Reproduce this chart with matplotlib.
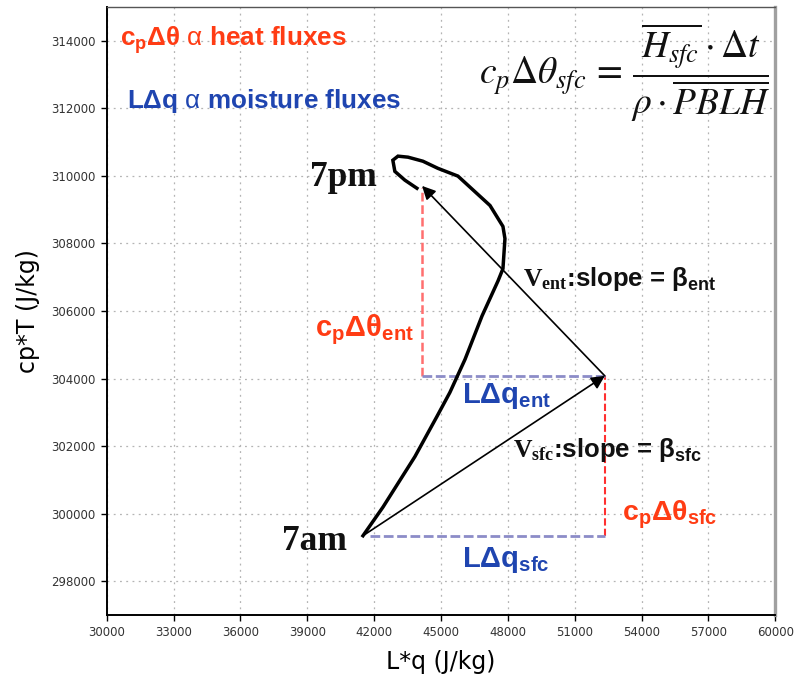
import matplotlib
matplotlib.use("Agg")
import matplotlib.pyplot as plt

# Daily mixing-diagram trajectory (7am -> 7pm), hourly-ish samples
lq_path = [41500, 42400, 43830, 44820, 45400, 46080, 46840, 47560, 47780,
           47870, 47780, 47200, 45760, 44860, 44190, 43520, 43070, 42840,
           42930, 43380, 43920]
cpt_path = [299350, 300200, 301690, 302880, 303590, 304570, 305850, 306890,
            307250, 308140, 308500, 309120, 309990, 310220, 310430, 310550,
            310580, 310460, 310130, 309870, 309630]

# Flux vectors: surface vector from 7am, entrainment vector back to 7pm state
sfc_start = (41500, 299350)
sfc_end = (52350, 304080)
ent_end = (44150, 309700)

x_ticks = list(range(30000, 60001, 3000))
y_ticks = list(range(298000, 314001, 2000))

RED = "#ff3c14"
BLUE = "#1f45b0"

plt.rcParams["mathtext.fontset"] = "custom"
plt.rcParams["mathtext.rm"] = "Liberation Sans"
plt.rcParams["mathtext.it"] = "Liberation Sans:italic"
plt.rcParams["mathtext.bf"] = "Liberation Sans:bold"
plt.rcParams["mathtext.sf"] = "Liberation Serif:bold"

fig = plt.figure(figsize=(7.96, 6.76), dpi=100)
ax = fig.add_axes([0.134, 0.090, 0.840, 0.900])

ax.set_xlim(30000, 60000)
ax.set_ylim(297000, 315000)
ax.set_xticks(x_ticks)
ax.set_yticks(y_ticks)
ax.set_xticklabels([str(v) for v in x_ticks])
ax.set_yticklabels([str(v) for v in y_ticks])
ax.tick_params(direction="out", length=4, width=1, color="black",
               labelsize=8.5, labelcolor="#333333", pad=4)
for lab in ax.get_xticklabels() + ax.get_yticklabels():
    lab.set_fontfamily(["Liberation Sans Narrow", "DejaVu Sans"])

ax.grid(True, color="#b4b4b4", linestyle=(0, (1.5, 3.5)), linewidth=0.9)
ax.set_axisbelow(True)

ax.spines["left"].set_linewidth(1.4)
ax.spines["bottom"].set_linewidth(1.4)
ax.spines["top"].set_color("#555555")
ax.spines["top"].set_linewidth(1.0)
ax.spines["right"].set_color("#a0a0a0")
ax.spines["right"].set_linewidth(2.4)

ax.set_xlabel("L*q (J/kg)", fontsize=17, labelpad=8)
ax.set_ylabel("cp*T (J/kg)", fontsize=17, labelpad=8)

# dashed component lines
ax.plot([ent_end[0], ent_end[0]], [sfc_end[1], ent_end[1] - 60],
        color="#ff6f6f", lw=1.8, linestyle=(0, (3.5, 1.5)), zorder=2)
ax.plot([sfc_end[0], sfc_end[0]], [sfc_start[1], sfc_end[1]],
        color="#ff3030", lw=1.5, linestyle=(0, (3.5, 1.5)), zorder=2)
ax.plot([ent_end[0], sfc_end[0]], [sfc_end[1], sfc_end[1]],
        color="#8c8cc8", lw=2.0, linestyle=(0, (3.5, 1.3)), zorder=2)
ax.plot([sfc_start[0] + 300, sfc_end[0]], [sfc_start[1], sfc_start[1]],
        color="#8c8cc8", lw=2.0, linestyle=(0, (3.5, 1.3)), zorder=2)

# trajectory
ax.plot(lq_path, cpt_path, color="black", lw=2.5, solid_joinstyle="miter",
        zorder=4)

# flux vectors
arrow_kw = dict(arrowstyle="-|>", color="black", lw=1.2, mutation_scale=20,
                shrinkA=0, shrinkB=0)
ax.annotate("", xy=sfc_end, xytext=sfc_start, arrowprops=arrow_kw, zorder=5)
ax.annotate("", xy=ent_end, xytext=sfc_end, arrowprops=arrow_kw, zorder=5)

# annotations
ax.text(30580, 314000, r"$\mathbf{c_p\Delta\theta}$ $\mathrm{\alpha}$ heat fluxes",
        color=RED, fontsize=18.8, fontweight="bold", family="Liberation Sans",
        ha="left", va="center")
ax.text(30900, 312200, r"$\mathbf{L\Delta q}$ $\mathrm{\alpha}$ moisture fluxes",
        color=BLUE, fontsize=18.8, fontweight="bold", family="Liberation Sans",
        ha="left", va="center")
ax.text(59780, 313050,
        r"$c_p\Delta\theta_{sfc}\,=\,\dfrac{\overline{H_{sfc}}\cdot\Delta t}"
        r"{\rho\cdot\overline{PBLH}}$",
        math_fontfamily="stix", fontsize=27, color="#111111",
        ha="right", va="center")

ax.text(42120, 309950, "7pm", family="Liberation Serif", fontweight="bold",
        fontsize=25.5, color="#111111", ha="right", va="center")
ax.text(40780, 299180, "7am", family="Liberation Serif", fontweight="bold",
        fontsize=25.5, color="#111111", ha="right", va="center")

ax.text(48680, 306950, r"$\mathsf{V_{ent}}$:slope = $\mathbf{\beta_{ent}}$",
        fontsize=18.5, fontweight="bold", family="Liberation Sans",
        color="#111111", ha="left", va="center")
ax.text(48230, 301900, r"$\mathsf{V_{sfc}}$:slope = $\mathbf{\beta_{sfc}}$",
        fontsize=18.5, fontweight="bold", family="Liberation Sans",
        color="#111111", ha="left", va="center")

ax.text(39340, 305460, r"$\mathbf{c_p\Delta\theta_{ent}}$", fontsize=21,
        color=RED, ha="left", va="center")
ax.text(53130, 299960, r"$\mathbf{c_p\Delta\theta_{sfc}}$", fontsize=20.5,
        color=RED, ha="left", va="center")
ax.text(45940, 303470, r"$\mathbf{L\Delta q_{ent}}$", fontsize=21,
        color=BLUE, ha="left", va="center")
ax.text(45940, 298620, r"$\mathbf{L\Delta q_{sfc}}$", fontsize=21,
        color=BLUE, ha="left", va="center")

fig.savefig("out.png", dpi=100)
